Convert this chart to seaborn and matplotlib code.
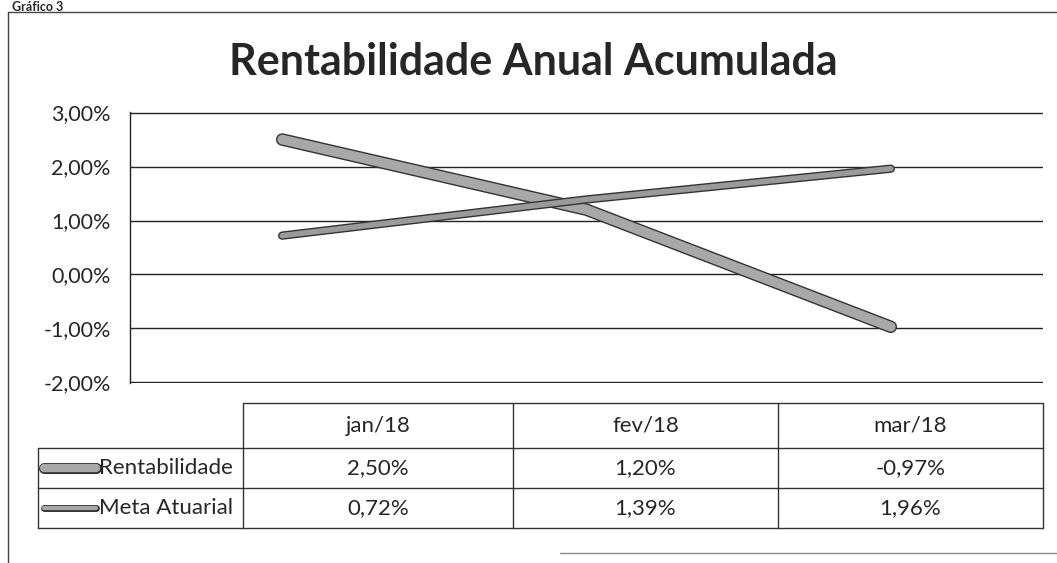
import pandas as pd
import seaborn as sns
import matplotlib.pyplot as plt
import matplotlib.patheffects as pe

# data
months = ["jan/18", "fev/18", "mar/18"]
rentabilidade = [2.50, 1.20, -0.97]
meta_atuarial = [0.72, 1.39, 1.96]
series_names = ["Rentabilidade", "Meta Atuarial"]
y_ticks = [-2, -1, 0, 1, 2, 3]

df = pd.DataFrame({"mes": months * 2,
                   "pos": list(range(len(months))) * 2,
                   "valor": rentabilidade + meta_atuarial,
                   "serie": [series_names[0]] * 3 + [series_names[1]] * 3})

def pct(v):
    return "{:.2f}%".format(v).replace(".", ",")

sns.set_style("white")
plt.rcParams['font.family'] = ['Lato', 'DejaVu Sans']

fig = plt.figure(figsize=(10.57, 5.63), dpi=100)
W, H = 1057, 563

# main plot area
ax = fig.add_axes([130 / W, 1 - 383 / H, (1043 - 130) / W, (383 - 112) / H])
widths = {"Rentabilidade": 7, "Meta Atuarial": 4}
sns.lineplot(data=df, x="pos", y="valor", hue="serie", ax=ax,
             palette={"Rentabilidade": "#a8a8a8", "Meta Atuarial": "#9a9a9a"},
             legend=False, sort=False)
for line, name in zip(ax.get_lines(), series_names):
    lw = widths[name]
    line.set_linewidth(lw)
    line.set_solid_capstyle("round")
    line.set_path_effects([pe.Stroke(linewidth=lw + 2, foreground="#333333"), pe.Normal()])

ax.set_xlim(-0.5, 2.5)
ax.set_ylim(-2.01, 3.01)
ax.set_yticks(y_ticks)
ax.set_yticklabels([pct(t) for t in y_ticks], fontsize=15.5)
ax.set_xticks([])
ax.set_xlabel("")
ax.set_ylabel("")
ax.tick_params(axis="y", length=0, pad=14)
ax.grid(axis="y", color="#222222", linewidth=1)
for s in ["top", "right", "bottom"]:
    ax.spines[s].set_visible(False)
ax.spines["left"].set_color("#222222")
ax.spines["left"].set_linewidth(1)
ax.set_axisbelow(True)

# overlay for title, table and frame (pixel coordinates)
ov = fig.add_axes([0, 0, 1, 1], zorder=-1)
ov.set_xlim(0, W)
ov.set_ylim(H, 0)
ov.axis("off")

ov.text(12, 1, "Gráfico 3", fontsize=9, fontweight="bold", va="top", ha="left")
ov.plot([8, 1057], [12, 12], color="#444444", lw=1)
ov.plot([8, 8], [12, 563], color="#444444", lw=1)
ov.plot([560, 1057], [553, 553], color="#888888", lw=1)

ov.text(533, 62, "Rentabilidade Anual Acumulada", fontsize=31, fontweight="bold",
        ha="center", va="center")

# data table
col_x = [243, 513, 778, 1043]
row_y = [403, 448, 488, 528]
lab_x = 38
kw = dict(color="#333333", lw=1)
ov.plot([col_x[0], col_x[-1]], [row_y[0]] * 2, **kw)
for y in row_y[1:]:
    ov.plot([lab_x, col_x[-1]], [y] * 2, **kw)
for x in col_x:
    ov.plot([x, x], [row_y[0], row_y[-1]], **kw)
ov.plot([lab_x, lab_x], [row_y[1], row_y[-1]], **kw)

for i, m in enumerate(months):
    cx = (col_x[i] + col_x[i + 1]) / 2
    ov.text(cx, (row_y[0] + row_y[1]) / 2, m, fontsize=16, ha="center", va="center")
    for r, vals in enumerate([rentabilidade, meta_atuarial]):
        ov.text(cx, (row_y[r + 1] + row_y[r + 2]) / 2, pct(vals[i]),
                fontsize=16, ha="center", va="center")

for r, name in enumerate(series_names):
    cy = (row_y[r + 1] + row_y[r + 2]) / 2
    lw = widths[name] - 1
    ov.plot([44, 96], [cy, cy], color="#a8a8a8", lw=lw, solid_capstyle="round",
            path_effects=[pe.Stroke(linewidth=lw + 2, foreground="#333333"), pe.Normal()])
    ov.text(99, cy, name, fontsize=16, ha="left", va="center")

fig.savefig("out.png", dpi=100)
